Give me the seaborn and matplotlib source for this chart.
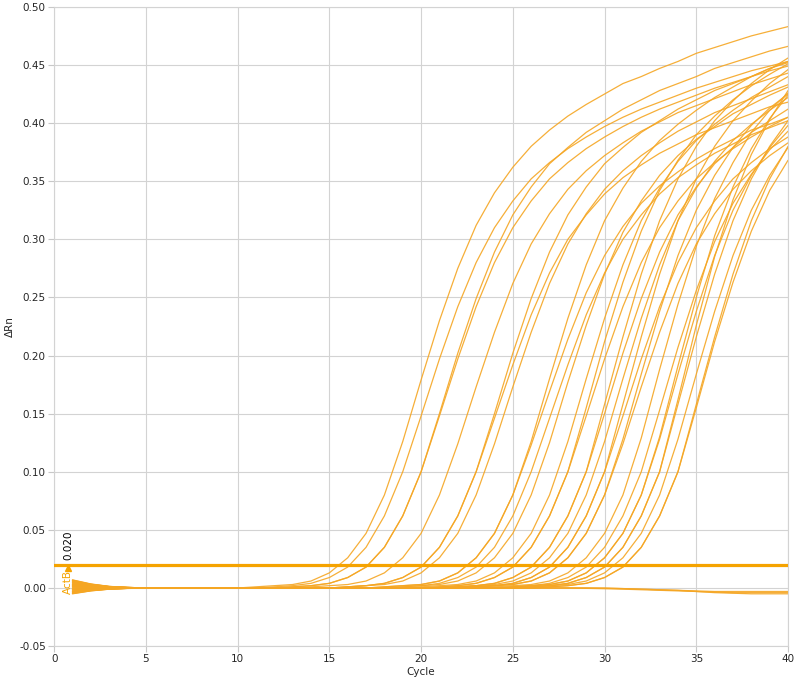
import numpy as np
import pandas as pd
import matplotlib
matplotlib.use("Agg")
import matplotlib.pyplot as plt
import seaborn as sns

# Delta Rn per cycle (cycles 1..40), one list per well
cycles = list(range(1, 41))

w01 = [.006, .003, .001, .0005, 0, 0, 0, 0, 0, 0,
       .001, .002, .003, .006, .013, .026, .047, .080, .126, .179,
       .230, .275, .312, .340, .362, .380, .394, .406, .416, .425,
       .434, .440, .447, .453, .460, .465, .470, .475, .479, .483]
w02 = [.005, .0025, .001, .0003, 0, 0, 0, 0, 0, 0,
       0, .001, .002, .004, .009, .018, .035, .062, .100, .148,
       .197, .242, .280, .310, .333, .352, .366, .378, .388, .397,
       .405, .412, .418, .424, .430, .435, .440, .445, .449, .453]
w03 = [.004, .002, .0008, .0002, 0, 0, 0, 0, 0, 0,
       0, 0, .001, .002, .004, .009, .018, .035, .062, .100,
       .148, .197, .242, .280, .310, .333, .352, .366, .378, .388,
       .397, .405, .412, .418, .424, .430, .435, .440, .445, .449]
w04 = [.0065, .0032, .0013, .0005, 0, 0, 0, 0, 0, 0,
       0, 0, .001, .002, .004, .009, .018, .035, .062, .100,
       .150, .202, .249, .289, .321, .345, .365, .379, .392, .402,
       .412, .420, .428, .434, .440, .447, .452, .457, .462, .466]
w05 = [.003, .0015, .0006, .0002, 0, 0, 0, 0, 0, 0,
       0, 0, 0, .001, .002, .003, .006, .013, .026, .047,
       .080, .124, .173, .220, .262, .296, .322, .343, .359, .372,
       .383, .393, .401, .409, .415, .421, .427, .433, .438, .443]
w06 = [.002, .001, .0004, .0001, 0, 0, 0, 0, 0, 0,
       0, 0, 0, 0, 0, .001, .002, .004, .009, .018,
       .035, .062, .100, .146, .192, .235, .271, .300, .321, .339,
       .353, .364, .374, .382, .390, .396, .402, .408, .414, .418]
w07 = [.001, .0005, .0002, 0, 0, 0, 0, 0, 0, 0,
       0, 0, 0, 0, 0, .001, .002, .004, .009, .018,
       .035, .062, .100, .150, .202, .249, .289, .321, .345, .365,
       .379, .392, .402, .412, .420, .428, .434, .440, .447, .452]
w08 = [-.001, -.0005, -.0002, 0, 0, 0, 0, 0, 0, 0,
       0, 0, 0, 0, 0, .001, .002, .003, .006, .013,
       .026, .047, .080, .124, .173, .220, .262, .296, .322, .343,
       .359, .372, .383, .393, .401, .409, .415, .421, .427, .433]
w09 = [-.002, -.001, -.0004, -.0001, 0, 0, 0, 0, 0, 0,
       0, 0, 0, 0, 0, 0, 0, .001, .002, .003,
       .006, .013, .026, .047, .080, .123, .169, .214, .254, .286,
       .311, .331, .346, .358, .369, .378, .386, .394, .399, .405]
w10 = [-.003, -.0015, -.0006, -.0002, 0, 0, 0, 0, 0, 0,
       0, 0, 0, 0, 0, 0, 0, .001, .002, .003,
       .006, .013, .026, .047, .080, .126, .180, .232, .278, .316,
       .344, .367, .385, .399, .411, .422, .431, .440, .447, .453]
w11 = [-.004, -.002, -.0008, -.0003, 0, 0, 0, 0, 0, 0,
       0, 0, 0, 0, 0, 0, 0, 0, .001, .002,
       .004, .009, .018, .035, .062, .100, .146, .192, .235, .271,
       .300, .321, .339, .353, .364, .374, .382, .390, .396, .402]
w12 = [-.005, -.0025, -.001, -.0004, 0, 0, 0, 0, 0, 0,
       0, 0, 0, 0, 0, 0, 0, 0, .001, .002,
       .003, .006, .013, .026, .047, .080, .125, .177, .226, .270,
       .306, .333, .355, .372, .386, .397, .408, .416, .424, .431]
w13 = [.0055, .0028, .0011, .0004, 0, 0, 0, 0, 0, 0,
       0, 0, 0, 0, 0, 0, 0, 0, 0, .001,
       .002, .003, .006, .013, .026, .047, .080, .126, .180, .232,
       .278, .316, .344, .367, .385, .399, .411, .422, .431, .440]
w14 = [.0045, .0022, .0009, .0003, 0, 0, 0, 0, 0, 0,
       0, 0, 0, 0, 0, 0, 0, 0, 0, 0,
       .001, .002, .004, .009, .018, .035, .062, .100, .148, .197,
       .242, .280, .310, .333, .352, .366, .378, .388, .397, .405]
w15 = [.0035, .0018, .0007, .0002, 0, 0, 0, 0, 0, 0,
       0, 0, 0, 0, 0, 0, 0, 0, 0, 0,
       .001, .002, .004, .009, .018, .035, .062, .100, .155, .212,
       .263, .307, .342, .368, .390, .406, .420, .432, .442, .451]
w16 = [.0025, .0012, .0005, .0002, 0, 0, 0, 0, 0, 0,
       0, 0, 0, 0, 0, 0, 0, 0, 0, 0,
       0, .001, .002, .004, .009, .018, .035, .062, .100, .150,
       .202, .249, .289, .321, .345, .365, .379, .392, .402, .412]
w17 = [.0015, .0008, .0003, .0001, 0, 0, 0, 0, 0, 0,
       0, 0, 0, 0, 0, 0, 0, 0, 0, 0,
       0, .001, .002, .004, .009, .018, .035, .062, .100, .158,
       .216, .270, .316, .352, .380, .402, .419, .434, .446, .456]
w18 = [.0005, .0003, .0001, 0, 0, 0, 0, 0, 0, 0,
       0, 0, 0, 0, 0, 0, 0, 0, 0, 0,
       0, .001, .002, .003, .006, .013, .026, .047, .080, .126,
       .180, .232, .278, .316, .344, .367, .385, .399, .411, .422]
w19 = [-.0005, -.0003, -.0001, 0, 0, 0, 0, 0, 0, 0,
       0, 0, 0, 0, 0, 0, 0, 0, 0, 0,
       0, 0, .001, .002, .004, .009, .018, .035, .062, .100,
       .158, .216, .270, .316, .352, .380, .402, .419, .434, .446]
w20 = [-.0015, -.0008, -.0003, -.0001, 0, 0, 0, 0, 0, 0,
       0, 0, 0, 0, 0, 0, 0, 0, 0, 0,
       0, 0, .001, .002, .004, .009, .018, .035, .062, .100,
       .148, .197, .242, .280, .310, .333, .352, .366, .378, .388]
w21 = [-.0025, -.0012, -.0005, -.0002, 0, 0, 0, 0, 0, 0,
       0, 0, 0, 0, 0, 0, 0, 0, 0, 0,
       0, 0, .001, .002, .003, .006, .013, .026, .047, .080,
       .128, .184, .238, .286, .325, .355, .379, .398, .413, .425]
w22 = [-.0035, -.0018, -.0007, -.0002, 0, 0, 0, 0, 0, 0,
       0, 0, 0, 0, 0, 0, 0, 0, 0, 0,
       0, 0, 0, .001, .002, .003, .006, .013, .026, .047,
       .080, .129, .188, .244, .294, .335, .366, .392, .411, .426]
w23 = [-.0045, -.0022, -.0009, -.0003, 0, 0, 0, 0, 0, 0,
       0, 0, 0, 0, 0, 0, 0, 0, 0, 0,
       0, 0, 0, 0, .001, .002, .004, .009, .018, .035,
       .062, .100, .153, .207, .256, .298, .331, .356, .377, .393]
w24 = [.007, .0035, .0014, .0005, 0, 0, 0, 0, 0, 0,
       0, 0, 0, 0, 0, 0, 0, 0, 0, 0,
       0, 0, 0, 0, .001, .002, .003, .006, .013, .026,
       .047, .080, .130, .191, .250, .303, .345, .378, .404, .424]
w25 = [.0068, .0033, .0013, .0005, 0, 0, 0, 0, 0, 0,
       0, 0, 0, 0, 0, 0, 0, 0, 0, 0,
       0, 0, 0, 0, .001, .002, .003, .006, .013, .026,
       .047, .080, .128, .184, .238, .286, .325, .355, .379, .398]
w26 = [.005, .0025, .001, .0003, 0, 0, 0, 0, 0, 0,
       0, 0, 0, 0, 0, 0, 0, 0, 0, 0,
       0, 0, 0, 0, 0, .001, .002, .004, .009, .018,
       .035, .062, .100, .158, .216, .270, .316, .352, .380, .402]
w27 = [.003, .0015, .0006, .0002, 0, 0, 0, 0, 0, 0,
       0, 0, 0, 0, 0, 0, 0, 0, 0, 0,
       0, 0, 0, 0, 0, .001, .002, .004, .009, .018,
       .035, .062, .100, .162, .226, .285, .334, .373, .403, .428]
w28 = [.001, .0005, .0002, 0, 0, 0, 0, 0, 0, 0,
       0, 0, 0, 0, 0, 0, 0, 0, 0, 0,
       0, 0, 0, 0, 0, .001, .002, .003, .006, .013,
       .026, .047, .080, .128, .184, .238, .286, .325, .355, .379]
w29 = [-.001, -.0005, -.0002, 0, 0, 0, 0, 0, 0, 0,
       0, 0, 0, 0, 0, 0, 0, 0, 0, 0,
       0, 0, 0, 0, 0, 0, .001, .002, .004, .009,
       .018, .035, .062, .100, .158, .216, .270, .316, .352, .380]
w30 = [-.003, -.0015, -.0006, -.0002, 0, 0, 0, 0, 0, 0,
       0, 0, 0, 0, 0, 0, 0, 0, 0, 0,
       0, 0, 0, 0, 0, 0, .001, .002, .004, .009,
       .018, .035, .062, .100, .155, .212, .263, .307, .342, .368]
w31 = [.002, .001, .0004, .0001, 0, 0, 0, 0, 0, 0,
       0, 0, 0, 0, 0, 0, 0, 0, 0, 0,
       0, 0, .001, .002, .003, .006, .013, .026, .047, .080,
       .124, .173, .220, .262, .296, .322, .343, .359, .372, .383]

# no-amplification wells, drifting slightly below zero at the end
ntc1 = [-.0048, -.0024, -.001, -.0003, 0, 0, 0, 0, 0, 0,
        0, 0, 0, 0, 0, 0, 0, 0, 0, 0,
        0, 0, 0, 0, 0, 0, 0, 0, -.0003, -.0006,
        -.001, -.0015, -.002, -.0025, -.003, -.0035, -.004, -.004, -.004, -.004]
ntc2 = [.0062, .003, .0012, .0004, 0, 0, 0, 0, 0, 0,
        0, 0, 0, 0, 0, 0, 0, 0, 0, 0,
        0, 0, 0, 0, 0, 0, 0, 0, 0, 0,
        -.0005, -.001, -.0015, -.002, -.003, -.004, -.0045, -.005, -.005, -.005]
ntc3 = [-.0042, -.002, -.0008, -.0003, 0, 0, 0, 0, 0, 0,
        0, 0, 0, 0, 0, 0, 0, 0, 0, 0,
        0, 0, 0, 0, 0, 0, 0, 0, 0, -.0002,
        -.0005, -.001, -.0015, -.002, -.0025, -.003, -.003, -.003, -.003, -.003]

threshold = 0.020
target = "ActB"

wells = {
    "w01": w01, "w02": w02, "w03": w03, "w04": w04, "w05": w05, "w06": w06,
    "w07": w07, "w08": w08, "w09": w09, "w10": w10, "w11": w11, "w12": w12,
    "w13": w13, "w14": w14, "w15": w15, "w16": w16, "w17": w17, "w18": w18,
    "w19": w19, "w20": w20, "w21": w21, "w22": w22, "w23": w23, "w24": w24,
    "w25": w25, "w26": w26, "w27": w27, "w28": w28, "w29": w29, "w30": w30,
    "w31": w31, "ntc1": ntc1, "ntc2": ntc2, "ntc3": ntc3,
}

rows = []
for name, vals in wells.items():
    assert len(vals) == len(cycles), name
    for c, v in zip(cycles, vals):
        rows.append({"well": name, "Cycle": c, "dRn": v})
df = pd.DataFrame(rows)

sns.set_style("whitegrid", {"grid.color": "#d3d3d3", "axes.edgecolor": "#d3d3d3"})
plt.rcParams["font.family"] = ["DejaVu Sans"]

line_color = "#f5a623"
thr_color = "#f5a300"

fig = plt.figure(figsize=(7.96, 6.83), dpi=100)
ax = fig.add_axes([0.068, 0.054, 0.922, 0.936])

sns.lineplot(data=df, x="Cycle", y="dRn", units="well", estimator=None,
             color=line_color, linewidth=0.9, alpha=0.9, ax=ax, legend=False)

# threshold line with its label
ax.axhline(threshold, color=thr_color, linewidth=2.3, zorder=3)
ax.text(0.75, threshold + 0.004, f"{threshold:.3f}", rotation=90,
        ha="center", va="bottom", fontsize=7.5, color="black")
ax.plot([0.75], [threshold - 0.0028], marker="^", markersize=5,
        color=thr_color, zorder=4)
ax.text(0.75, threshold - 0.0045, target, rotation=90, ha="center", va="top",
        fontsize=7.5, color=thr_color)

ax.set_xlim(0, 40)
ax.set_ylim(-0.05, 0.5)
ax.set_xticks(np.arange(0, 41, 5))
ax.set_yticks(np.arange(-0.05, 0.501, 0.05))
ax.yaxis.set_major_formatter(matplotlib.ticker.FormatStrFormatter("%.2f"))
ax.tick_params(axis="both", labelsize=7.5, length=4, color="#c8c8c8",
               left=True, bottom=True, pad=2)
ax.grid(True, color="#d3d3d3", linewidth=0.8)
for s in ax.spines.values():
    s.set_color("#d3d3d3")
    s.set_linewidth(0.8)

ax.set_xlabel("Cycle", fontsize=7.5, labelpad=2)
ax.set_ylabel("ΔRn", fontsize=7.5, labelpad=3)

fig.savefig("out.png", dpi=100)
